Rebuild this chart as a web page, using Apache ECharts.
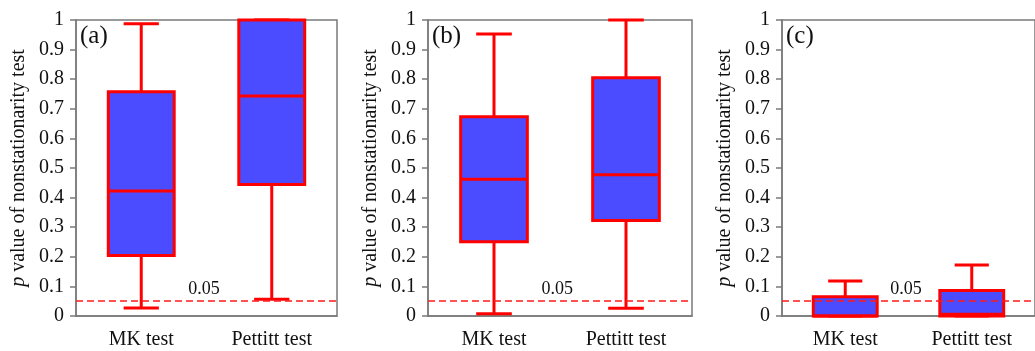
<!DOCTYPE html>
<html>
<head>
<meta charset="utf-8">
<script src="https://cdn.jsdelivr.net/npm/echarts@6/dist/echarts.min.js"></script>
<style>
html,body{margin:0;padding:0;background:#fff;}
#chart{width:1035px;height:351px;}
</style>
</head>
<body>
<div id="chart"></div>
<script>
// ---- data ----
const categories = ['MK test', 'Pettitt test'];
const panelLabels = ['(a)', '(b)', '(c)'];
// each box: [min, Q1, median, Q3, max]
const boxA = [[0.027, 0.204, 0.422, 0.758, 0.987], [0.057, 0.444, 0.743, 1.0, 1.0]];
const boxB = [[0.008, 0.251, 0.462, 0.673, 0.953], [0.026, 0.323, 0.477, 0.805, 1.0]];
const boxC = [[0.0, 0.0, 0.0, 0.065, 0.118], [0.0, 0.0, 0.006, 0.086, 0.172]];
const threshold = 0.05;
const thresholdLabel = '0.05';
const yAxisTitle = '{i|p} value of nonstationarity test';

const FONT = "'Liberation Serif', 'Times New Roman', serif";
const RED = '#ff0000';
const BLUE = '#4b4bff';
const AXIS = '#7a7a7a';
const DASH_RED = '#ff1a1a';

const grids = [
  {left: 76, right: 1035 - 337, top: 20, bottom: 35},
  {left: 428, right: 1035 - 692, top: 20, bottom: 35},
  {left: 782, right: -10, top: 20, bottom: 35}
];

function renderBox(params, api) {
  const x = api.value(0);
  const mn = api.value(1), q1 = api.value(2), md = api.value(3), q3 = api.value(4), mx = api.value(5);
  const band = api.size([1, 0])[0];
  const bw = band * 0.505, cw = band * 0.27;
  const pMin = api.coord([x, mn]), pQ1 = api.coord([x, q1]), pMd = api.coord([x, md]),
        pQ3 = api.coord([x, q3]), pMax = api.coord([x, mx]);
  const cx = pMin[0];
  const ls = {stroke: RED, lineWidth: 3};
  return {
    type: 'group',
    children: [
      {type: 'line', shape: {x1: cx, y1: pQ3[1], x2: cx, y2: pMax[1]}, style: ls},
      {type: 'line', shape: {x1: cx, y1: pMin[1], x2: cx, y2: pQ1[1]}, style: ls},
      {type: 'line', shape: {x1: cx - cw / 2, y1: pMax[1], x2: cx + cw / 2, y2: pMax[1]}, style: ls},
      {type: 'line', shape: {x1: cx - cw / 2, y1: pMin[1], x2: cx + cw / 2, y2: pMin[1]}, style: ls},
      {type: 'rect', shape: {x: cx - bw / 2, y: pQ3[1], width: bw, height: pQ1[1] - pQ3[1]},
        style: {fill: BLUE, stroke: RED, lineWidth: 3}},
      {type: 'line', shape: {x1: cx - bw / 2, y1: pMd[1], x2: cx + bw / 2, y2: pMd[1]}, style: ls}
    ]
  };
}

function renderThreshold(params, api) {
  const cs = params.coordSys;
  const y = Math.round(api.coord([0, api.value(0)])[1]);
  const x0 = cs.x, x1 = cs.x + cs.width;
  return {
    type: 'group',
    children: [
      {type: 'line', shape: {x1: x0, y1: y, x2: x1, y2: y},
        style: {stroke: DASH_RED, lineWidth: 1.5, lineDash: [7, 4]}},
      {type: 'text', x: x0 + cs.width * 0.49, y: y - 3,
        style: {text: thresholdLabel, font: '18px ' + FONT, fill: '#111',
          textAlign: 'center', textVerticalAlign: 'bottom'}}
    ]
  };
}

const allBoxes = [boxA, boxB, boxC];
const series = [];
allBoxes.forEach((boxes, i) => {
  series.push({
    type: 'custom', xAxisIndex: i, yAxisIndex: i,
    renderItem: renderBox, clip: false, z: 2,
    encode: {x: 0, y: [1, 2, 3, 4, 5]},
    data: boxes.map((b, k) => [k].concat(b))
  });
  series.push({
    type: 'custom', xAxisIndex: i, yAxisIndex: i,
    renderItem: renderThreshold, clip: false, z: 3, silent: true,
    encode: {y: 0},
    data: [[threshold]]
  });
});

const option = {
  animation: false,
  backgroundColor: '#fff',
  textStyle: {fontFamily: FONT},
  grid: grids.map(g => Object.assign({show: true, borderColor: AXIS, borderWidth: 1.5, backgroundColor: 'transparent'}, g)),
  xAxis: grids.map((g, i) => ({
    type: 'category', gridIndex: i, data: categories, boundaryGap: true,
    axisLine: {lineStyle: {color: AXIS, width: 1.5}},
    axisTick: {alignWithLabel: true, length: 6, lineStyle: {color: AXIS, width: 1.5}},
    axisLabel: {color: '#111', fontSize: 20, fontFamily: FONT, margin: 14},
    splitLine: {show: false}
  })),
  yAxis: grids.map((g, i) => ({
    type: 'value', gridIndex: i, min: 0, max: 1, interval: 0.1,
    name: yAxisTitle, nameLocation: 'middle', nameGap: 47,
    nameTextStyle: {fontSize: 20, fontFamily: FONT, color: '#111',
      rich: {i: {fontStyle: 'italic', fontSize: 20, fontFamily: FONT, color: '#111'}}},
    axisLine: {show: true, lineStyle: {color: AXIS, width: 1.5}},
    axisTick: {show: true, length: 6, lineStyle: {color: AXIS, width: 1.5}},
    axisLabel: {color: '#111', fontSize: 20, fontFamily: FONT, margin: 12},
    splitLine: {show: false}
  })),
  graphic: grids.map((g, i) => ({
    type: 'text', left: g.left + 4, top: 24,
    style: {text: panelLabels[i], font: '25px ' + FONT, fill: '#111'}
  })),
  series: series
};

const chart = echarts.init(document.getElementById('chart'), null, {renderer: 'canvas'});
chart.setOption(option);
</script>
</body>
</html>
